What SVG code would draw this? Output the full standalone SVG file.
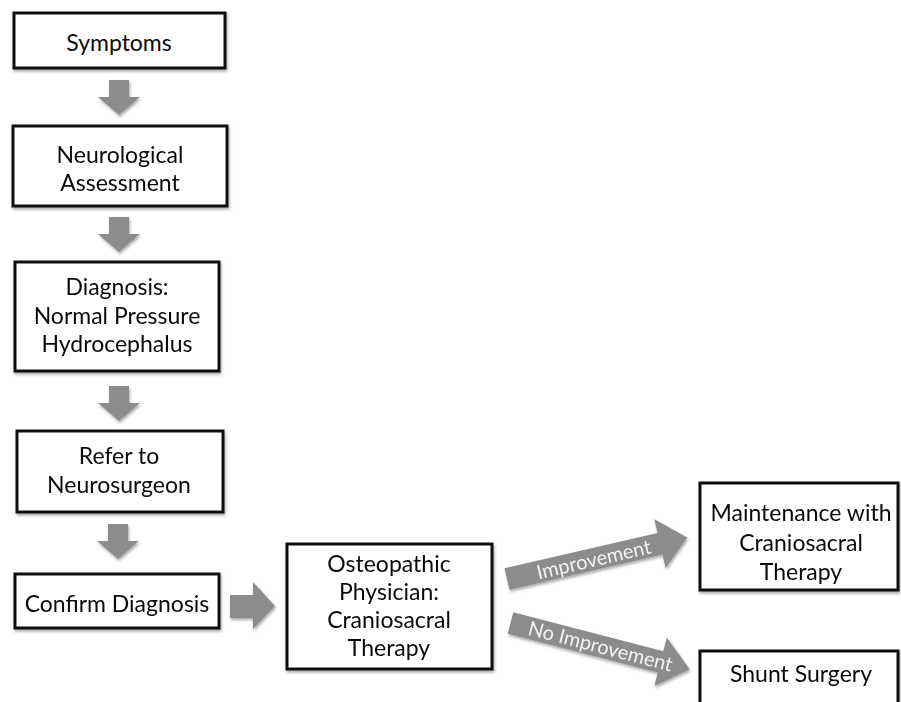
<svg xmlns="http://www.w3.org/2000/svg" width="901" height="702" viewBox="0 0 901 702">
  <defs>
    <filter id="sh" x="-10%" y="-10%" width="130%" height="140%">
      <feGaussianBlur in="SourceAlpha" stdDeviation="1.5"/>
      <feOffset dx="1" dy="2" result="b"/>
      <feComponentTransfer><feFuncA type="linear" slope="0.35"/></feComponentTransfer>
      <feMerge><feMergeNode/><feMergeNode in="SourceGraphic"/></feMerge>
    </filter>
    <path id="varrow" d="M-10,0 H10 V17 H21 L0,35 L-21,17 H-10 Z"/>
  </defs>
  <style>
    .box { fill: #ffffff; stroke: #111111; stroke-width: 3; }
    .t { font-family: Lato, "Open Sans", "Liberation Sans", sans-serif; font-size: 23px; fill: #0a0a0a; text-anchor: middle; }
    .arr { fill: #8c8c8c; }
    .at { font-family: Lato, "Open Sans", "Liberation Sans", sans-serif; font-size: 20px; fill: #f2f2f2; text-anchor: middle; }
  </style>
  <rect width="901" height="702" fill="#ffffff"/>

  <g id="connectors" filter="url(#sh)">
    <use href="#varrow" class="arr" x="119" y="80"/>
    <use href="#varrow" class="arr" x="119" y="217"/>
    <use href="#varrow" class="arr" x="119" y="386"/>
    <use href="#varrow" class="arr" x="118" y="524"/>
    <path class="arr" d="M230,595 H253 V582 L275,606 L253,629 V618 H230 Z"/>
    <g transform="translate(507,579) rotate(-13)">
      <path class="arr" d="M0,-11 H157 V-25 L185,0 L157,25 V11 H0 Z"/>
      <text class="at" x="89" y="7.5">Improvement</text>
    </g>
    <g transform="translate(510.5,623) rotate(14.5)">
      <path class="arr" d="M0,-11 H155 V-25 L185,0 L155,25 V11 H0 Z"/>
      <text class="at" x="93" y="7">No Improvement</text>
    </g>
  </g>

  <g id="symptoms">
    <rect class="box" x="14" y="13" width="211" height="55" filter="url(#sh)"/>
    <text class="t" x="119" y="51">Symptoms</text>
  </g>
  <g id="neuro-assessment">
    <rect class="box" x="13" y="126" width="214" height="80" filter="url(#sh)"/>
    <text class="t" x="120" y="163">Neurological</text>
    <text class="t" x="120" y="191">Assessment</text>
  </g>
  <g id="diagnosis">
    <rect class="box" x="15" y="262" width="204" height="109" filter="url(#sh)"/>
    <text class="t" x="117" y="295">Diagnosis:</text>
    <text class="t" x="117" y="324">Normal Pressure</text>
    <text class="t" x="117" y="352">Hydrocephalus</text>
  </g>
  <g id="refer">
    <rect class="box" x="17" y="431" width="206" height="81" filter="url(#sh)"/>
    <text class="t" x="119" y="464">Refer to</text>
    <text class="t" x="119" y="493">Neurosurgeon</text>
  </g>
  <g id="confirm">
    <rect class="box" x="15" y="574" width="204" height="54" filter="url(#sh)"/>
    <text class="t" x="117" y="612">Confirm Diagnosis</text>
  </g>
  <g id="osteopathic">
    <rect class="box" x="287" y="544" width="205" height="125" filter="url(#sh)"/>
    <text class="t" x="389" y="572">Osteopathic</text>
    <text class="t" x="389" y="600">Physician:</text>
    <text class="t" x="389" y="628">Craniosacral</text>
    <text class="t" x="389" y="656">Therapy</text>
  </g>
  <g id="maintenance">
    <rect class="box" x="700" y="483" width="198" height="107" filter="url(#sh)"/>
    <text class="t" x="801" y="521">Maintenance with</text>
    <text class="t" x="801" y="551">Craniosacral</text>
    <text class="t" x="801" y="580">Therapy</text>
  </g>
  <g id="shunt">
    <rect class="box" x="700" y="651" width="198" height="70" filter="url(#sh)"/>
    <text class="t" x="801" y="682">Shunt Surgery</text>
  </g>
</svg>
